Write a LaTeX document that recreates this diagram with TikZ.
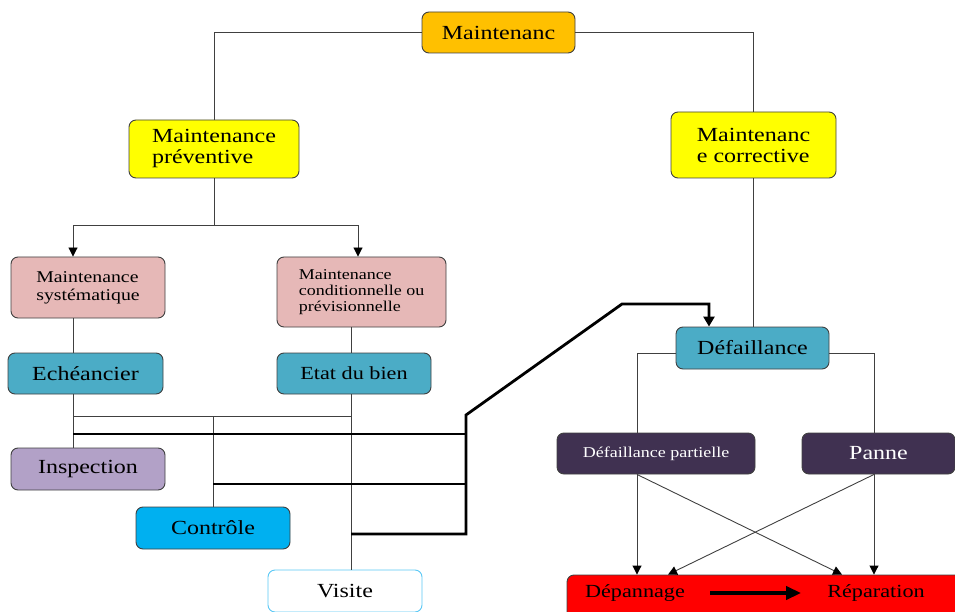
\documentclass[tikz,border=0pt]{standalone}
\usepackage{fontspec}
\setmainfont{Liberation Serif}[FakeStretch=1.2]
\usetikzlibrary{arrows.meta,calc}
\definecolor{orangeT}{RGB}{255,192,0}
\definecolor{yel}{RGB}{255,255,0}
\definecolor{pinkB}{RGB}{230,184,183}
\definecolor{tealB}{RGB}{75,172,198}
\definecolor{lilac}{RGB}{178,161,199}
\definecolor{skyB}{RGB}{0,176,240}
\definecolor{visB}{RGB}{90,200,245}
\definecolor{darkP}{RGB}{64,49,81}
\definecolor{lineG}{RGB}{64,64,64}
\begin{document}
\begin{tikzpicture}[x=1pt,y=-1pt,
  box/.style={draw=lineG, line width=0.9pt, rounded corners=7pt, inner sep=0pt, align=left, font=\fontsize{20}{21}\selectfont},
  conn/.style={draw=lineG, line width=0.9pt},
  heavy/.style={draw=black, line width=2.8pt},
  tip/.style={-{Triangle[width=9pt,length=9pt,color=black,fill=black]}}
]
\useasboundingbox (0,0) rectangle (955,612);
% nodes
\node[box, fill=orangeT, minimum width=153pt, minimum height=41pt] (top) at (498.5,32.5) {Maintenanc};
\node[box, fill=yel, minimum width=170pt, minimum height=58pt] (prev) at (214,149) {Maintenance\\préventive};
\node[box, fill=yel, minimum width=165pt, minimum height=66pt] (corr) at (753.5,145) {Maintenanc\\e corrective};
\node[box, fill=pinkB, minimum width=154pt, minimum height=61pt, font=\fontsize{16.5}{18}\selectfont] (sys) at (88,287.5) {Maintenance\\systématique};
\node[box, fill=pinkB, minimum width=169pt, minimum height=70pt, font=\fontsize{15}{16}\selectfont] (cond) at (361.5,292) {Maintenance\\conditionnelle ou\\prévisionnelle};
\node[box, fill=tealB, minimum width=155pt, minimum height=41pt] (ech) at (85.5,373.5) {Echéancier};
\node[box, fill=tealB, minimum width=154pt, minimum height=41pt, font=\fontsize{18.5}{20}\selectfont] (etat) at (354,373.5) {Etat du bien};
\node[box, fill=lilac, minimum width=154pt, minimum height=42pt] (insp) at (88,469) {Inspection};
\node[box, fill=skyB, minimum width=154pt, minimum height=42pt] (ctrl) at (213,528) {Contrôle};
\node[box, draw=visB, fill=white, minimum width=154pt, minimum height=42pt] (vis) at (345,591) {Visite};
\node[box, fill=tealB, minimum width=153pt, minimum height=42pt] (def) at (752.5,348) {Défaillance};
\node[box, fill=darkP, text=white, minimum width=198pt, minimum height=41pt, font=\fontsize{15}{16}\selectfont] (dp) at (656,453.5) {Défaillance partielle};
\node[box, fill=darkP, text=white, minimum width=153pt, minimum height=41pt] (panne) at (878.5,453.5) {Panne};
\node[box, fill=red, minimum width=398pt, minimum height=50pt] (rep) at (766,600) {};
\node[font=\fontsize{18.5}{20}\selectfont, inner sep=0pt] (dep) at (635,593) {Dépannage};
\node[font=\fontsize{18.5}{20}\selectfont, inner sep=0pt] (repa) at (876,593) {Réparation};
% column coordinates
\coordinate (xl) at (73,0);
\coordinate (xm) at (213,0);
\coordinate (xr) at (351,0);
\coordinate (xc) at (358,0);
\coordinate (xk) at (466,0);
\coordinate (xa) at (709,0);
\coordinate (xdl) at (637,0);
\coordinate (xdr) at (874,0);
\coordinate (xq) at (842,0);
\coordinate (xp) at (668,0);
\coordinate (yb) at (0,416);
\coordinate (y1) at (0,434);
\coordinate (y2) at (0,484);
\coordinate (y3) at (0,534);
\coordinate (k1) at (466,415);
\coordinate (k2) at (622,304);
\coordinate (pj) at ($(prev.south)+(0,47)$);
% connectors
\draw[conn] (top.west) -| (prev.north);
\draw[conn] (top.east) -| (corr.north);
\draw[conn] (prev.south) -- (pj);
\draw[conn, tip] (pj) -| (xl |- sys.north);
\draw[conn, tip] (pj) -| (xc |- cond.north);
\draw[conn] (xl |- sys.south) -- (xl |- ech.north);
\draw[conn] (xr |- cond.south) -- (xr |- etat.north);
\draw[conn] (xl |- ech.south) -- (xl |- insp.north);
\draw[conn] (xr |- etat.south) -- (xr |- vis.north);
\draw[conn] (xl |- yb) -- (xr |- yb);
\draw[conn] (xm |- yb) -- (ctrl.north);
\draw[heavy] (xl |- y1) -- (xk |- y1);
\draw[heavy] (xm |- y2) -- (xk |- y2);
\draw[heavy, -{Triangle[width=11pt,length=10pt]}] (xr |- y3) -| (k1) -- (k2) -| (xa |- def.north);
\draw[conn] (corr.south) -- (corr.south |- def.north);
\draw[conn] ($(def.west)+(0,5)$) -| (xdl |- dp.north);
\draw[conn] ($(def.east)+(0,5)$) -| (xdr |- panne.north);
\draw[conn, tip] (xdl |- dp.south) -- (xdl |- rep.north);
\draw[conn, tip] (xdr |- panne.south) -- (xdr |- rep.north);
\draw[conn, tip] (xdl |- dp.south) -- (xq |- rep.north);
\draw[conn, tip] (xdr |- panne.south) -- (xp |- rep.north);
\draw[line width=4.5pt, -{Triangle[width=13pt,length=15pt]}] ($(dep.east)+(25,0)$) -- ($(repa.west)+(-26,0)$);
\end{tikzpicture}
\end{document}
